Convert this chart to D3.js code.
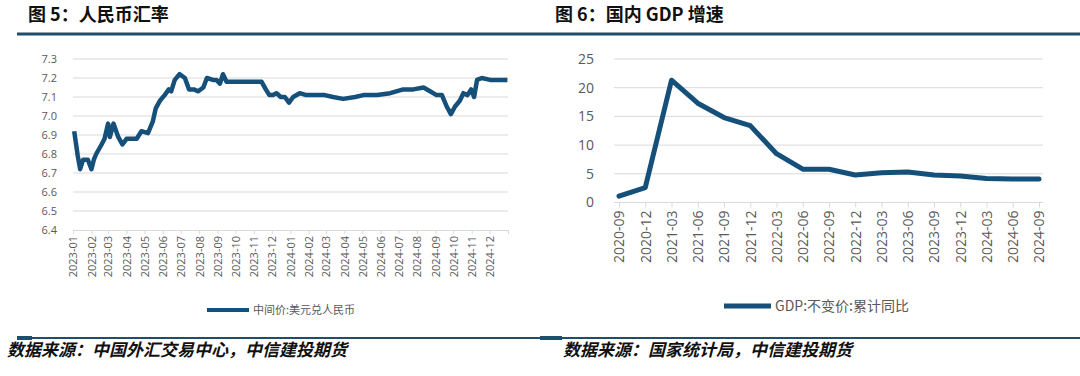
<!DOCTYPE html>
<html lang="zh">
<head>
<meta charset="UTF-8">
<title>人民币汇率 / 国内 GDP 增速</title>
<script src="https://d3js.org/d3.v7.min.js"></script>
<style>
    html, body { margin: 0; padding: 0; background: #fff; }
    svg { display: block; }
    .title { font-family: "Noto Sans CJK SC", sans-serif; font-weight: 700; font-size: 18px; fill: #111; }
    .source { font-family: "Noto Sans CJK SC", sans-serif; font-weight: 700; font-style: italic; font-size: 17px; fill: #111; }
    .lab { font-family: "Open Sans", "Noto Sans CJK SC", sans-serif; fill: #595959; }
    .leg { font-family: "Noto Sans CJK SC", sans-serif; fill: #595959; }
</style>
</head>
<body>
<svg id="chart" width="1080" height="376"></svg>
<script>
// 图5 人民币汇率：中间价:美元兑人民币
const fxDates = [
    "2023-01-03", "2023-01-09", "2023-01-13", "2023-01-18", "2023-01-26", "2023-02-01", "2023-02-05",
    "2023-02-09", "2023-02-18", "2023-02-23", "2023-03-01", "2023-03-04", "2023-03-10", "2023-03-18",
    "2023-03-25", "2023-04-01", "2023-04-09", "2023-04-18", "2023-04-26", "2023-05-07", "2023-05-15",
    "2023-05-20", "2023-05-27", "2023-06-04", "2023-06-11", "2023-06-15", "2023-06-21", "2023-06-29",
    "2023-07-08", "2023-07-15", "2023-07-23", "2023-07-30", "2023-08-08", "2023-08-14", "2023-08-24",
    "2023-08-30", "2023-09-05", "2023-09-10", "2023-09-16", "2023-09-27", "2023-10-14", "2023-10-31",
    "2023-11-14", "2023-11-21", "2023-11-27", "2023-12-03", "2023-12-09", "2023-12-16", "2023-12-23",
    "2023-12-30", "2024-01-06", "2024-01-17", "2024-01-28", "2024-02-14", "2024-02-28", "2024-03-13",
    "2024-03-30", "2024-04-19", "2024-05-03", "2024-05-26", "2024-06-17", "2024-07-09", "2024-07-26",
    "2024-08-12", "2024-08-23", "2024-09-03", "2024-09-12", "2024-09-20", "2024-09-27", "2024-10-04",
    "2024-10-12", "2024-10-18", "2024-10-25", "2024-10-31", "2024-11-05", "2024-11-10", "2024-11-18",
    "2024-12-02", "2024-12-19", "2024-12-31"
];
const fxValues = [
    6.92, 6.79, 6.72, 6.77, 6.77, 6.72, 6.77,
    6.80, 6.85, 6.88, 6.96, 6.89, 6.96, 6.89,
    6.85, 6.88, 6.88, 6.88, 6.92, 6.91, 6.97,
    7.04, 7.08, 7.11, 7.14, 7.13, 7.19, 7.22,
    7.20, 7.14, 7.14, 7.13, 7.15, 7.20, 7.19,
    7.19, 7.17, 7.22, 7.18, 7.18, 7.18, 7.18,
    7.18, 7.14, 7.11, 7.11, 7.12, 7.10, 7.10,
    7.07, 7.10, 7.12, 7.11, 7.11, 7.11, 7.10,
    7.09, 7.10, 7.11, 7.11, 7.12, 7.14, 7.14,
    7.15, 7.13, 7.11, 7.11, 7.05, 7.01, 7.05,
    7.08, 7.12, 7.11, 7.14, 7.10, 7.19, 7.20,
    7.19, 7.19, 7.19
];
const fxTicks = [6.4, 6.5, 6.6, 6.7, 6.8, 6.9, 7.0, 7.1, 7.2, 7.3];
const fxMonths = [
    "2023-01", "2023-02", "2023-03", "2023-04", "2023-05", "2023-06", "2023-07", "2023-08",
    "2023-09", "2023-10", "2023-11", "2023-12", "2024-01", "2024-02", "2024-03", "2024-04",
    "2024-05", "2024-06", "2024-07", "2024-08", "2024-09", "2024-10", "2024-11", "2024-12"
];

// 图6 国内 GDP 增速：GDP:不变价:累计同比
const gdpQuarters = [
    "2020-09", "2020-12", "2021-03", "2021-06", "2021-09", "2021-12", "2022-03", "2022-06", "2022-09",
    "2022-12", "2023-03", "2023-06", "2023-09", "2023-12", "2024-03", "2024-06", "2024-09"
];
const gdpValues = [1.1, 2.6, 21.3, 17.3, 14.8, 13.4, 8.5, 5.8, 5.8, 4.8, 5.2, 5.3, 4.8, 4.6, 4.2, 4.1, 4.1];
const gdpTicks = [0, 5, 10, 15, 20, 25];

const lineColor = "#15507a";
const ruleColor = "#1f4e6b";
const gridColor = "#d9d9d9";

const svg = d3.select("#chart");
const parseDay = d3.timeParse("%Y-%m-%d");
const parseMonth = d3.timeParse("%Y-%m");

// 标题、分隔线、数据来源
svg.append("text").attr("class", "title").attr("x", 28).attr("y", 21).text("图 5：人民币汇率");
svg.append("text").attr("class", "title").attr("x", 555).attr("y", 21).text("图 6：国内 GDP 增速");

svg.append("line").attr("x1", 17).attr("x2", 1080).attr("y1", 34).attr("y2", 34)
    .attr("stroke", ruleColor).attr("stroke-width", 3);
svg.append("line").attr("x1", 17).attr("x2", 1080).attr("y1", 338).attr("y2", 338)
    .attr("stroke", ruleColor).attr("stroke-width", 2);
[[17, 32], [540, 562]].forEach(([a, b]) => {
    svg.append("line").attr("x1", a).attr("x2", b).attr("y1", 338).attr("y2", 338)
        .attr("stroke", ruleColor).attr("stroke-width", 4);
});

svg.append("text").attr("class", "source").attr("x", 7).attr("y", 356).text("数据来源：中国外汇交易中心，中信建投期货");
svg.append("text").attr("class", "source").attr("x", 563).attr("y", 356).text("数据来源：国家统计局，中信建投期货");

// ---------- 左图：人民币汇率 ----------
{
    const x = d3.scaleTime().domain([parseMonth("2023-01"), parseMonth("2025-01")]).range([73, 508]);
    const y = d3.scaleLinear().domain([6.4, 7.3]).range([230, 59]);
    const g = svg.append("g");

    g.selectAll("line.grid").data(fxTicks.slice(1)).join("line")
        .attr("class", "grid")
        .attr("x1", 73).attr("x2", 508)
        .attr("y1", d => y(d)).attr("y2", d => y(d))
        .attr("stroke", gridColor).attr("stroke-width", 1);

    const xAxis = d3.axisBottom(x)
        .tickValues(fxMonths.map(parseMonth).concat([parseMonth("2025-01")]))
        .tickFormat((d, i) => fxMonths[i] || "")
        .tickSizeInner(4).tickSizeOuter(0).tickPadding(4);
    const ax = g.append("g").attr("transform", "translate(0,230)").call(xAxis);
    ax.select(".domain").attr("stroke", gridColor);
    ax.selectAll(".tick line").attr("stroke", gridColor);
    ax.selectAll(".tick text")
        .attr("class", "lab")
        .style("font-size", "11px")
        .attr("transform", "rotate(-90)")
        .attr("text-anchor", "end")
        .attr("x", -6).attr("y", 0).attr("dy", "0.35em");

    g.selectAll("text.ylab").data(fxTicks).join("text")
        .attr("class", "lab ylab")
        .style("font-size", "11px")
        .attr("x", 57).attr("y", d => y(d)).attr("dy", "0.35em")
        .attr("text-anchor", "end")
        .text(d => d3.format(".1f")(d));

    const line = d3.line()
        .x((d, i) => x(parseDay(fxDates[i])))
        .y(d => y(d));
    g.append("path").datum(fxValues)
        .attr("d", line)
        .attr("fill", "none")
        .attr("stroke", lineColor)
        .attr("stroke-width", 4.5)
        .attr("stroke-linejoin", "round");

    g.append("line").attr("x1", 207).attr("x2", 249).attr("y1", 310).attr("y2", 310)
        .attr("stroke", lineColor).attr("stroke-width", 4);
    g.append("text").attr("class", "leg").style("font-size", "11px")
        .attr("x", 253).attr("y", 310).attr("dy", "0.35em")
        .text("中间价:美元兑人民币");
}

// ---------- 右图：国内 GDP 增速 ----------
{
    const x = d3.scalePoint().domain(gdpQuarters).range([619, 1039]);
    const y = d3.scaleLinear().domain([0, 25]).range([202.5, 59]);
    const g = svg.append("g");

    g.selectAll("line.grid").data(gdpTicks.slice(1)).join("line")
        .attr("class", "grid")
        .attr("x1", 614).attr("x2", 1043)
        .attr("y1", d => y(d)).attr("y2", d => y(d))
        .attr("stroke", gridColor).attr("stroke-width", 1);

    const xAxis = d3.axisBottom(x).tickSizeInner(5).tickSizeOuter(0).tickPadding(4);
    const ax = g.append("g").attr("transform", "translate(0,202.5)").call(xAxis);
    ax.select(".domain").attr("stroke", gridColor).attr("d", "M614,0H1043");
    ax.selectAll(".tick line").attr("stroke", gridColor);
    ax.selectAll(".tick text")
        .attr("class", "lab")
        .style("font-size", "14px")
        .attr("transform", "rotate(-90)")
        .attr("text-anchor", "end")
        .attr("x", -8).attr("y", 0).attr("dy", "0.35em");

    g.selectAll("text.ylab").data(gdpTicks).join("text")
        .attr("class", "lab ylab")
        .style("font-size", "14px")
        .attr("x", 594).attr("y", d => y(d)).attr("dy", "0.35em")
        .attr("text-anchor", "end")
        .text(d => d);

    const line = d3.line()
        .x((d, i) => x(gdpQuarters[i]))
        .y(d => y(d));
    g.append("path").datum(gdpValues)
        .attr("d", line)
        .attr("fill", "none")
        .attr("stroke", lineColor)
        .attr("stroke-width", 5)
        .attr("stroke-linejoin", "round")
        .attr("stroke-linecap", "round");

    g.append("line").attr("x1", 724).attr("x2", 771).attr("y1", 306).attr("y2", 306)
        .attr("stroke", lineColor).attr("stroke-width", 5);
    g.append("text").attr("class", "leg").style("font-size", "14px")
        .attr("x", 775).attr("y", 306).attr("dy", "0.35em")
        .text("GDP:不变价:累计同比");
}
</script>
</body>
</html>
